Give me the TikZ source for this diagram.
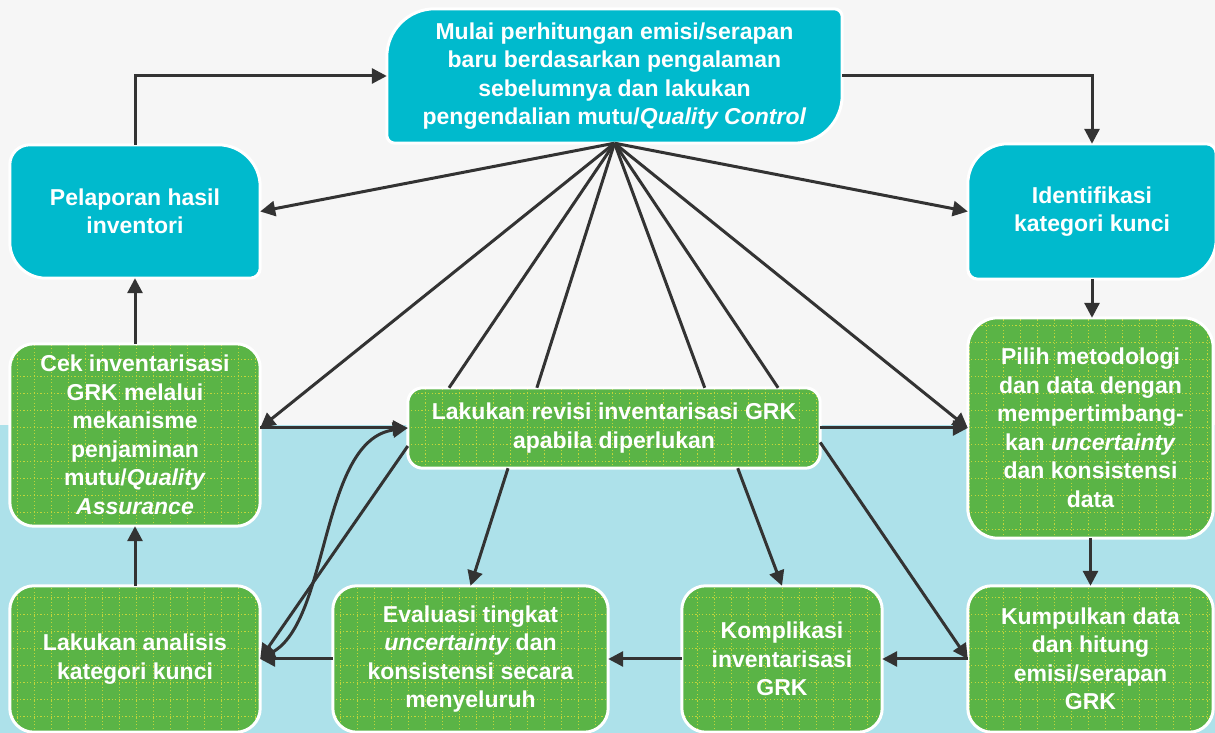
\documentclass[tikz,border=0pt]{standalone}
\usepackage{fontspec}
\setmainfont{Liberation Sans}
\usetikzlibrary{arrows.meta,calc}
\definecolor{bggrey}{HTML}{F6F6F6}
\definecolor{bgblue}{HTML}{ADE1EA}
\definecolor{tealbox}{HTML}{00BACD}
\definecolor{greenbox}{HTML}{5AB446}
\definecolor{gridcol}{HTML}{C2D53A}
\definecolor{linecol}{HTML}{333333}
\pgfdeclarelayer{back}
\pgfdeclarelayer{bg}
\pgfsetlayers{back,bg,main}
\newcommand\boxshape[6]{%
 \path[#2] let \p1=(#1.north west), \p2=(#1.south east) in
 (\x1+#3pt,\y1) -- (\x2-#4pt,\y1) arc[start angle=90,end angle=0,radius=#4pt]
 -- (\x2,\y2+#5pt) arc[start angle=0,end angle=-90,radius=#5pt]
 -- (\x1+#6pt,\y2) arc[start angle=270,end angle=180,radius=#6pt]
 -- (\x1,\y1-#3pt) arc[start angle=180,end angle=90,radius=#3pt] -- cycle;}
\tikzset{
 tealfill/.style={fill=tealbox, draw=white, line width=3pt},
 greenfill/.style={fill=greenbox, draw=white, line width=3pt,
   path picture={\draw[gridcol, line width=0.9pt, dash pattern=on 1.2pt off 2.2pt]
     (path picture bounding box.south west) grid[step=17pt] (path picture bounding box.north east);}},
 box/.style={rectangle, inner sep=0pt, align=center, text=white,
   font=\bfseries\fontsize{23}{28.5}\selectfont},
 conn/.style={draw=linecol, line width=3pt},
 arr/.style={conn, -{Triangle[length=15pt,width=15pt]}},
 biarr/.style={conn, {Triangle[length=15pt,width=15pt]}-{Triangle[length=15pt,width=15pt]}},
}
\begin{document}
\begin{tikzpicture}[x=1pt,y=1pt]
\useasboundingbox (0,0) rectangle (1215,733);
\begin{pgfonlayer}{back}
\fill[bggrey] (0,0) rectangle (1215,733);
\fill[bgblue] (0,0) rectangle (1215,308);
\end{pgfonlayer}

\node[box, minimum width=455pt, minimum height=134pt] (A) at (614.5,657)
 {Mulai perhitungan emisi/serapan\\baru berdasarkan pengalaman\\sebelumnya dan lakukan\\pengendalian mutu/\textit{Quality Control}};
\node[box, minimum width=250pt, minimum height=133pt] (B) at (135,521.5)
 {Pelaporan hasil\\inventori};
\node[box, minimum width=248pt, minimum height=135pt] (C) at (1092,521.5)
 {Identifikasi\\kategori kunci};
\node[box, minimum width=250pt, minimum height=182pt] (D) at (135,298)
 {Cek inventarisasi\\GRK melalui\\mekanisme\\penjaminan\\mutu/\textit{Quality}\\\textit{Assurance}};
\node[box, minimum width=412pt, minimum height=80pt] (E) at (614,305)
 {Lakukan revisi inventarisasi GRK\\apabila diperlukan};
\node[box, minimum width=245pt, minimum height=220pt] (F) at (1090.5,305)
 {Pilih metodologi\\dan data dengan\\mempertimbang-\\kan \textit{uncertainty}\\dan konsistensi\\data};
\node[box, minimum width=250pt, minimum height=146pt] (G) at (135,74)
 {Lakukan analisis\\kategori kunci};
\node[box, minimum width=275pt, minimum height=146pt] (H) at (470.5,74)
 {Evaluasi tingkat\\\textit{uncertainty} dan\\konsistensi secara\\menyeluruh};
\node[box, minimum width=200pt, minimum height=146pt] (I) at (782,74)
 {Komplikasi\\inventarisasi\\GRK};
\node[box, minimum width=245pt, minimum height=146pt] (J) at (1090.5,74)
 {Kumpulkan data\\dan hitung\\emisi/serapan\\GRK};

\begin{pgfonlayer}{bg}
\boxshape{A}{tealfill}{48}{8}{48}{8}
\boxshape{B}{tealfill}{20}{42}{10}{36}
\boxshape{C}{tealfill}{40}{10}{40}{10}
\boxshape{D}{greenfill}{24}{24}{24}{24}
\boxshape{E}{greenfill}{15}{15}{15}{15}
\boxshape{F}{greenfill}{30}{30}{30}{30}
\boxshape{G}{greenfill}{24}{24}{24}{24}
\boxshape{H}{greenfill}{24}{24}{24}{24}
\boxshape{I}{greenfill}{24}{24}{24}{24}
\boxshape{J}{greenfill}{24}{24}{24}{24}
\end{pgfonlayer}

% outer cycle
\draw[arr] (B.north) |- (A.west);
\draw[arr] (A.east) -| (C.north);
\draw[arr] (C.south) -- (C.south |- F.north);
\draw[arr] (F.south) -- (F.south |- J.north);
\draw[arr] (J.west) -- (I.east);
\draw[arr] (I.west) -- (H.east);
\draw[arr] (H.west) -- (G.east);
\draw[arr] (G.north) -- (D.south);
\draw[arr] (D.north) -- (B.south);
\draw[arr] (D.east |- E.west) -- (E.west);
\draw[arr] (E.east) -- (F.west |- E.east);

% fan from the top node
\draw[arr] (A.south) -- (B.east);
\draw[arr] (A.south) -- (C.west);
\draw[arr] (A.south) -- (D.east |- E.west);
\draw[arr] (A.south) -- (F.west |- E.east);
\draw[conn] (A.south) -- ($(E.north west)!0.1!(E.north east)$);
\draw[conn] (A.south) -- ($(E.north west)!0.313!(E.north east)$);
\draw[conn] (A.south) -- ($(E.north west)!0.72!(E.north east)$);
\draw[conn] (A.south) -- ($(E.north west)!0.898!(E.north east)$);

% from the revision node
\draw[arr] ($(E.south west)!0.243!(E.south east)$) -- (H.north);
\draw[arr] ($(E.south west)!0.8!(E.south east)$) -- (I.north);
\draw[arr] (E.-4.7) -- (J.west);
\draw[arr] (E.185.3) -- (G.east);
\draw[biarr] (G.east) .. controls (330,113) and (320,293) .. (E.west);
\end{tikzpicture}
\end{document}
